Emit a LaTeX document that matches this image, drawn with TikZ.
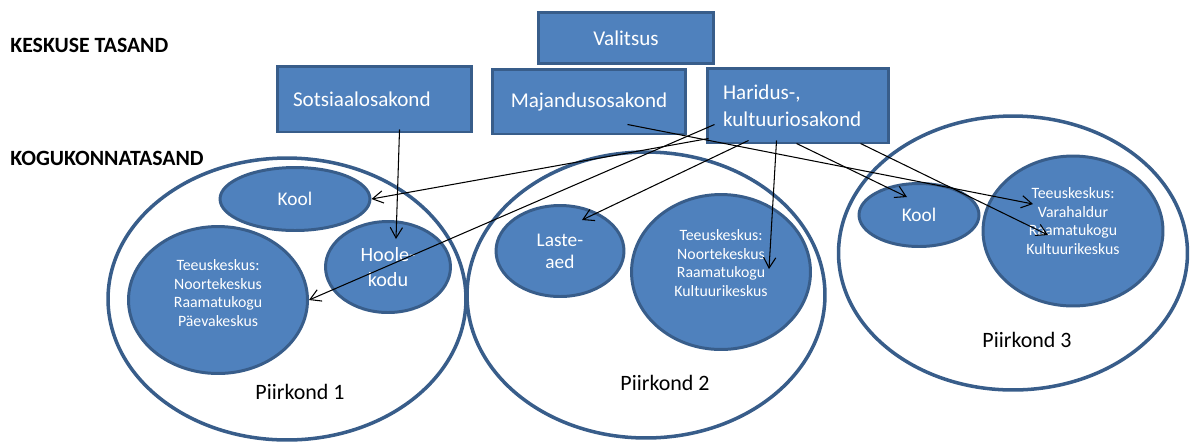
\documentclass[tikz,border=0pt]{standalone}
\usepackage{fontspec}
\setmainfont{Carlito}
\usetikzlibrary{shapes,arrows.meta,positioning,calc}
\definecolor{officeblue}{HTML}{4F81BD}
\definecolor{officeedge}{HTML}{385D8A}

\begin{document}
\begin{tikzpicture}[x=0.02cm, y=-0.02cm,
                   box/.style={draw=officeedge, line width=1.7pt, fill=officeblue, text=white,
                               font=\fontsize{12}{15.5}\selectfont, inner sep=0pt},
                   zone/.style={ellipse, draw=officeedge, line width=2pt, fill=white},
                   unit/.style={ellipse, draw=officeedge, line width=1.7pt, fill=officeblue, text=white,
                                inner sep=0pt, align=center, font=\fontsize{11}{12.5}\selectfont},
                   small/.style={text=white, align=center, font=\fontsize{9}{10.5}\selectfont},
                   tier/.style={anchor=west, inner sep=0pt, font=\fontsize{12.4}{14}\bfseries\selectfont},
                   region/.style={font=\fontsize{12.5}{14}\selectfont},
                   link/.style={-{Straight Barb[length=6pt,width=7pt]}, line width=0.6pt}]
          \useasboundingbox (0,0) rectangle (1190,441);
          % levels
          \node[tier] (keskus) at (10,45) {KESKUSE TASAND};
          \node[tier] (kogukond) at (10,158) {KOGUKONNATASAND};
          % districts
          \node[zone, minimum width=7.16cm, minimum height=5.64cm] (p1) at (287,299) {};
          \node[zone, minimum width=7.16cm, minimum height=5.72cm] (p2) at (646,295) {};
          \node[zone, minimum width=6.98cm, minimum height=5.48cm] (p3) at (1013,253) {};
          \node[region] (p1lbl) at (300,392) {Piirkond 1};
          \node[region] (p2lbl) at (665,383) {Piirkond 2};
          \node[region] (p3lbl) at (1027,340) {Piirkond 3};
          % district 1
          \node[unit, minimum width=3.0cm, minimum height=1.26cm] (kool1) at (295,199) {Kool};
          \node[unit, minimum width=2.5cm, minimum height=1.82cm,
                font=\fontsize{11.5}{14}\selectfont] (hoole) at (388,267) {Hoole-\\kodu};
          \node[unit, minimum width=3.58cm, minimum height=2.94cm] (tk1) at (218,300) {};
          \node[small] (tk1txt) at (218,293) {Teeuskeskus:\\Noortekeskus\\Raamatukogu\\Päevakeskus};
          % district 2
          \node[unit, minimum width=2.56cm, minimum height=1.82cm] (laste) at (560,251) {Laste-\\aed};
          \node[unit, minimum width=3.58cm, minimum height=3.1cm] (tk2) at (721,272) {};
          \node[small] (tk2txt) at (721,263) {Teeuskeskus:\\Noortekeskus\\Raamatukogu\\Kultuurikeskus};
          % district 3
          \node[unit, minimum width=2.4cm, minimum height=1.26cm] (kool3) at (919,215) {Kool};
          \node[unit, minimum width=3.6cm, minimum height=3.0cm] (tk3) at (1073,231) {};
          \node[small] (tk3txt) at (1073,221) {Teeuskeskus:\\Varahaldur\\Raamatukogu\\Kultuurikeskus};
          % government
          \node[box, minimum width=3.52cm, minimum height=1.02cm] (valitsus) at (626,38) {Valitsus};
          \node[box, minimum height=1.32cm, text width=3.26cm, inner xsep=0.32cm,
                align=left] (sots) at (374.5,99) {Sotsiaalosakond};
          \node[box, minimum width=3.88cm, minimum height=1.3cm] (maj) at (589,101.5) {Majandusosakond};
          \node[box, minimum height=1.5cm, text width=3.0cm, inner xsep=0.32cm,
                align=left] (har) at (798,105.5) {Haridus-,\\kultuuriosakond};
          % links
          \draw[link] ($(sots.south west)+(124,-4)$) -- ($(hoole)+(8,-28)$);
          \draw[link] ($(maj.south west)+(137,-11)$) -- ($(tk3)+(-40,-27)$);
          \draw[link] ($(har.south west)+(3,-6)$) -- (kool1.east);
          \draw[link] ($(har.south west)+(9,-20)$) -- (tk1.east);
          \draw[link] ($(har.south west)+(43,-4)$) -- ($(laste)+(22,-31)$);
          \draw[link] ($(har.south west)+(71,-4)$) -- ($(tk2)+(48,-3)$);
          \draw[link] ($(har.south west)+(91,-1)$) -- ($(kool3)+(-12,-18)$);
          \draw[link] ($(har.south west)+(155,-1)$) -- ($(tk3)+(-25,4)$);
        \end{tikzpicture}
\end{document}
